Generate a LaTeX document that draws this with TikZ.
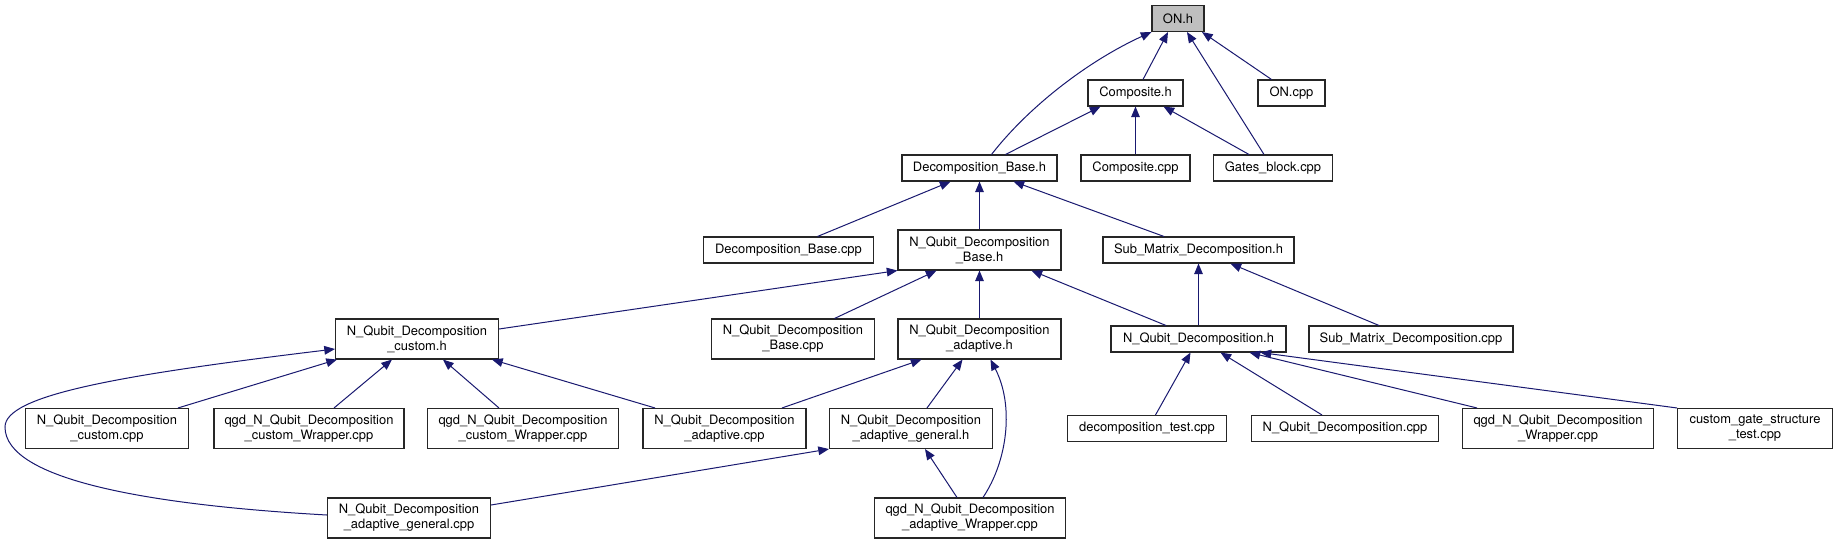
\documentclass[tikz,border=0pt]{standalone}
\usepackage{fontspec}
\setmainfont{TeX Gyre Heros}
\usetikzlibrary{arrows.meta,calc}
\definecolor{navy}{HTML}{191970}
\definecolor{graybg}{HTML}{BFBFBF}
\begin{document}
\begin{tikzpicture}[x=0.75pt,y=-0.75pt,
  box/.style={draw=black!85,line width=0.8pt,fill=white,align=center,inner sep=0pt,
    font=\fontsize{9.7}{11.3}\selectfont},
  w/.style={minimum width=#1*0.75pt},
  hone/.style={minimum height=19.5pt},
  htwo/.style={minimum height=30pt},
  dep/.style={draw=navy,line width=0.75pt,-{Triangle[length=8pt,width=6.5pt]}}]
\fill[white] (0,0) rectangle (1838,544);
\useasboundingbox (0,0) rectangle (1838,544);

% nodes
\node[box,w=52,hone,fill=graybg] (on) at (1178,18.5) {ON.h};
\node[box,w=95,hone] (comph) at (1135.5,93) {Composite.h};
\node[box,w=67,hone] (oncpp) at (1291.5,93) {ON.cpp};
\node[box,w=155,hone] (decb) at (979.5,168) {Decomposition\_Base.h};
\node[box,w=109,hone] (compcpp) at (1135.5,168) {Composite.cpp};
\node[box,w=119,hone] (gates) at (1273,168) {Gates\_block.cpp};
\node[box,w=170,hone] (decbcpp) at (788.5,250) {Decomposition\_Base.cpp};
\node[box,w=163,htwo] (nqbh) at (979.5,250) {N\_Qubit\_Decomposition\\\_Base.h};
\node[box,w=191,hone] (subh) at (1198.5,250) {Sub\_Matrix\_Decomposition.h};
\node[box,w=163,htwo] (customh) at (417,339) {N\_Qubit\_Decomposition\\\_custom.h};
\node[box,w=163,htwo] (nqbcpp) at (793,339) {N\_Qubit\_Decomposition\\\_Base.cpp};
\node[box,w=163,htwo] (adaph) at (979.5,339) {N\_Qubit\_Decomposition\\\_adaptive.h};
\node[box,w=175,hone] (nqdh) at (1198.5,339) {N\_Qubit\_Decomposition.h};
\node[box,w=204,hone] (subcpp) at (1411,339) {Sub\_Matrix\_Decomposition.cpp};
\node[box,w=163,htwo] (customcpp) at (107,428.5) {N\_Qubit\_Decomposition\\\_custom.cpp};
\node[box,w=190,htwo] (wrap1) at (309,428.5) {qgd\_N\_Qubit\_Decomposition\\\_custom\_Wrapper.cpp};
\node[box,w=191,htwo] (wrap2) at (523,428.5) {qgd\_N\_Qubit\_Decomposition\\\_custom\_Wrapper.cpp};
\node[box,w=163,htwo] (adapcpp) at (724.5,428.5) {N\_Qubit\_Decomposition\\\_adaptive.cpp};
\node[box,w=163,htwo] (genh) at (911,428.5) {N\_Qubit\_Decomposition\\\_adaptive\_general.h};
\node[box,w=159,hone] (dtest) at (1147,428.5) {decomposition\_test.cpp};
\node[box,w=187,hone] (nqdcpp) at (1345,428.5) {N\_Qubit\_Decomposition.cpp};
\node[box,w=191,htwo] (nqdwrap) at (1558,428.5) {qgd\_N\_Qubit\_Decomposition\\\_Wrapper.cpp};
\node[box,w=155,htwo] (cgst) at (1755,428.5) {custom\_gate\_structure\\\_test.cpp};
\node[box,w=163,htwo] (gencpp) at (409,518) {N\_Qubit\_Decomposition\\\_adaptive\_general.cpp};
\node[box,w=191,htwo] (adapwrap) at (970,518) {qgd\_N\_Qubit\_Decomposition\\\_adaptive\_Wrapper.cpp};

% edges
\draw[dep] ($(decb.north)+(12,0)$) .. controls (1030,105) and (1090,60) .. (on.south west);
\draw[dep] ($(comph.north)+(7.5,0)$) -- ($(on.south)+(-10,0)$);
\draw[dep] ($(gates.north)+(-9,0)$) -- ($(on.south)+(9,0)$);
\draw[dep] ($(oncpp.north)+(-20,0)$) -- ($(on.south)+(24,0)$);
\draw[dep] ($(decb.north)+(26,0)$) -- ($(comph.south)+(-35,0)$);
\draw[dep] (compcpp.north) -- (compcpp.north |- comph.south);
\draw[dep] ($(gates.north)+(-24,0)$) -- ($(comph.south)+(28,0)$);
\draw[dep] ($(decbcpp.north)+(29,0)$) -- ($(decb.south)+(-29,0)$);
\draw[dep] (nqbh.north) -- (decb.south);
\draw[dep] ($(subh.north)+(-34.5,0)$) -- ($(decb.south)+(34,0)$);
\draw[dep] ($(customh.east)+(0,-10)$) -- (nqbh.south west);
\draw[dep] ($(nqbcpp.north)+(41.5,0)$) -- ($(nqbh.south)+(-43,0)$);
\draw[dep] (adaph.north) -- (nqbh.south);
\draw[dep] ($(nqdh.north)+(-32.5,0)$) -- ($(nqbh.south)+(52,0)$);
\draw[dep] (nqdh.north) -- (subh.south);
\draw[dep] ($(subcpp.north)+(-32,0)$) -- ($(subh.south)+(32,0)$);
\draw[dep] ($(customcpp.north)+(71,0)$) -- ($(customh.south west)+(2,0)$);
\draw[dep] ($(wrap1.north)+(25,0)$) -- ($(customh.south)+(-25,0)$);
\draw[dep] ($(wrap2.north)+(-24,0)$) -- ($(customh.south)+(26,0)$);
\draw[dep] ($(adapcpp.north)+(-69.5,0)$) -- ($(customh.south)+(75,0)$);
\draw[dep] ($(gencpp.west)+(0,-3)$) .. controls (150,505) and (5,480) .. (5,427)
  .. controls (5,395) and (120,375) .. ($(customh.west)+(0,10)$);
\draw[dep] ($(adapcpp.north)+(57.5,0)$) -- ($(adaph.south)+(-58,0)$);
\draw[dep] ($(genh.north)+(16,0)$) -- ($(adaph.south)+(-17,0)$);
\draw[dep] ($(adapwrap.north)+(13,0)$) .. controls (1008,460) and (1014,405) .. ($(adaph.south)+(11,0)$);
\draw[dep] ($(gencpp.east)+(0,-13)$) -- (genh.south west);
\draw[dep] ($(adapwrap.north)+(-13,0)$) -- ($(genh.south)+(14,0)$);
\draw[dep] ($(dtest.north)+(8.5,0)$) -- ($(nqdh.south)+(-8,0)$);
\draw[dep] ($(nqdcpp.north)+(-23,0)$) -- ($(nqdh.south)+(22,0)$);
\draw[dep] ($(nqdwrap.north)+(-81,0)$) -- ($(nqdh.south)+(51,0)$);
\draw[dep] (cgst.north west) -- ($(nqdh.south)+(62,0)$);
\end{tikzpicture}
\end{document}
